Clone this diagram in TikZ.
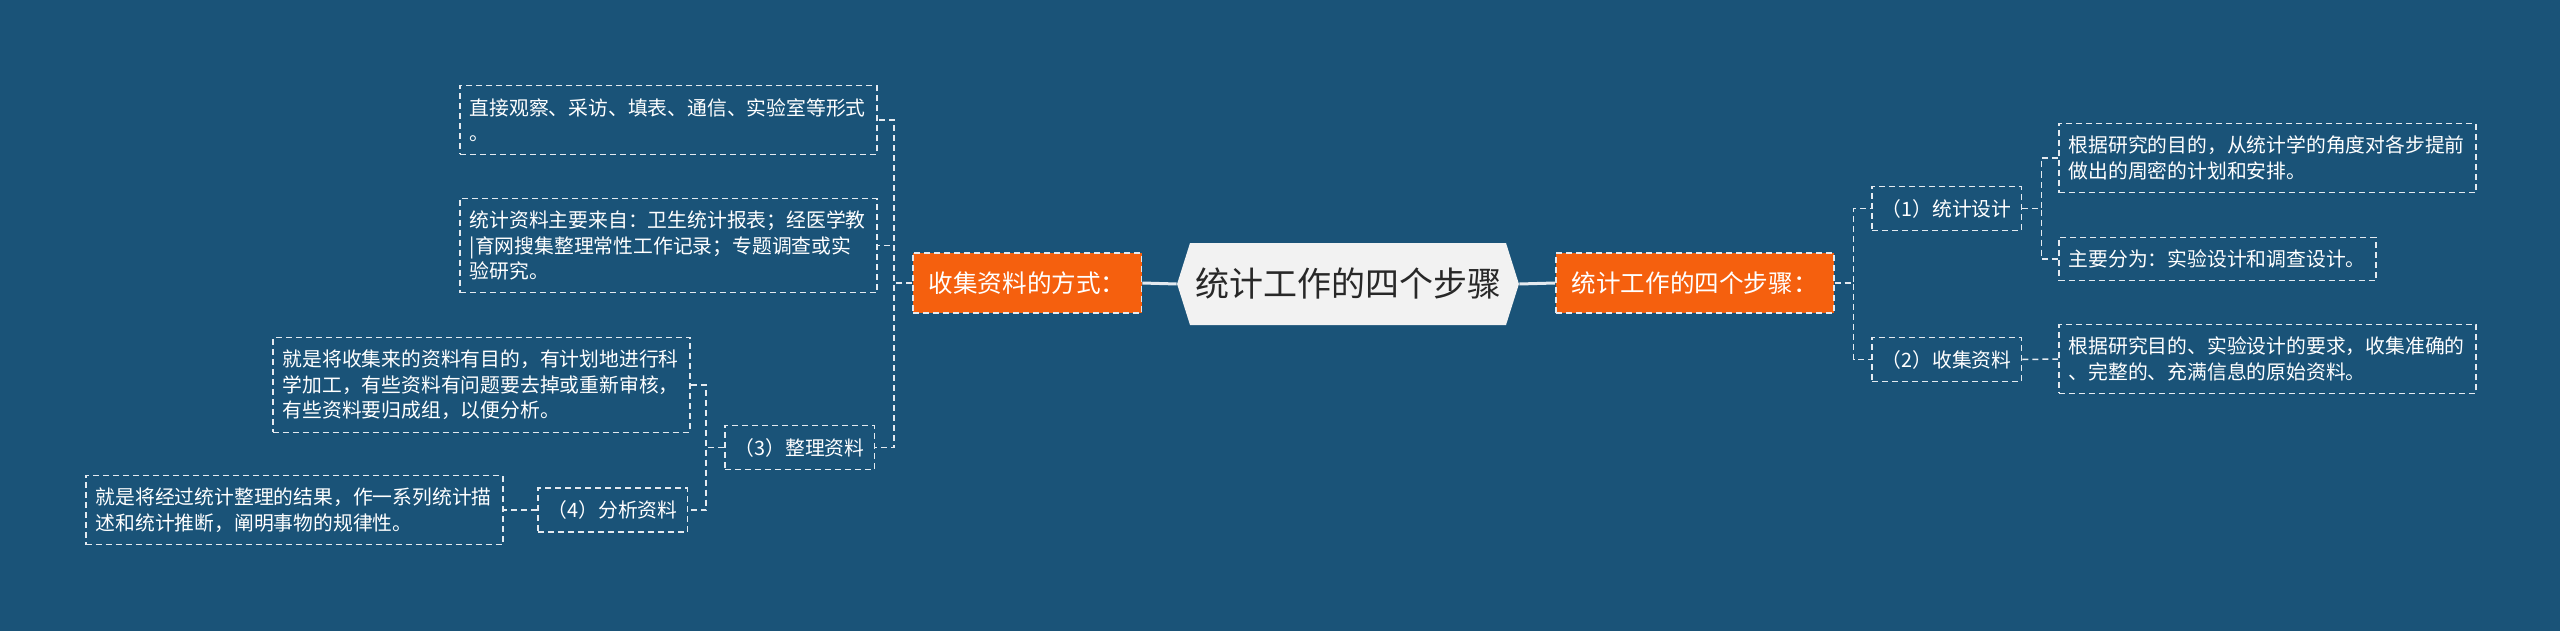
\documentclass[tikz,border=0pt]{standalone}
\usepackage{fontspec}
\usepackage{xcolor}
\usepackage{tikz}
\usetikzlibrary{calc}
\usetikzlibrary{shapes}
\usetikzlibrary{shapes.symbols}
\usetikzlibrary{positioning}
\newfontfamily\cjk{Noto Sans CJK SC}
\definecolor{bgblue}{RGB}{26,83,120}
\definecolor{topicorange}{RGB}{245,96,14}
\definecolor{rootfill}{RGB}{242,242,242}
\definecolor{roottext}{RGB}{40,40,40}
\definecolor{edgeline}{RGB}{228,234,240}
\tikzset{>=latex}
\tikzstyle{leaf} = [draw=edgeline, dash pattern=on 3pt off 2pt, line width=0.75pt, text=white, inner xsep=5pt, inner ysep=6.25pt, align=left, anchor=west, font=\cjk\fontsize{9.9}{12.75}\selectfont]
\tikzstyle{longleaf} = [leaf, text width=198.5pt]
\tikzstyle{topic} = [leaf, fill=topicorange, inner xsep=8pt, inner ysep=2pt, minimum height=30pt, font=\cjk\fontsize{12.3}{14}\selectfont]
\tikzstyle{link} = [draw=edgeline, dash pattern=on 3pt off 2pt, line width=0.75pt]
\tikzstyle{trunk} = [draw=edgeline, line width=1.5pt]

\begin{document}
\begin{tikzpicture}[x=0.5pt, y=-0.5pt]
\fill [bgblue] (0,0) rectangle (2560,631);
\node [signal, signal to=west and east, signal pointer angle=145, fill=rootfill, text=roottext, inner xsep=2.5pt, inner ysep=1pt, minimum height=41pt, font=\cjk\fontsize{17}{20}\selectfont] (root) at (1348,284) {统计工作的四个步骤};
\node [topic] (collect) at (912,283) {收集资料的方式：};
\node [topic] (steps) at (1555,283) {统计工作的四个步骤：};
%left side
\node [longleaf] (A1) at (459,120) {直接观察、采访、填表、通信、实验室等形式\\。};
\node [longleaf] (A2) at (459,245.5) {统计资料主要来自：卫生统计报表；经医学教\\|育网搜集整理常性工作记录；专题调查或实\\验研究。};
\node [leaf] (L3) at (724,447.5) {（3）整理资料};
\node [longleaf] (L3a) at (272,385) {就是将收集来的资料有目的，有计划地进行科\\学加工，有些资料有问题要去掉或重新审核，\\有些资料要归成组，以便分析。};
\node [leaf] (L4) at (537,510) {（4）分析资料};
\node [longleaf] (L4a) at (85,510) {就是将经过统计整理的结果，作一系列统计描\\述和统计推断，阐明事物的规律性。};
%right side
\node [leaf] (R1) at (1871,208.5) {（1）统计设计};
\node [leaf] (R2) at (1871,359.5) {（2）收集资料};
\node [longleaf] (R1a) at (2058,158) {根据研究的目的，从统计学的角度对各步提前\\做出的周密的计划和安排。};
\node [leaf] (R1b) at (2058,259) {主要分为：实验设计和调查设计。};
\node [longleaf] (R2a) at (2058,359) {根据研究目的、实验设计的要求，收集准确的\\、完整的、充满信息的原始资料。};
\draw [trunk] (root.west) -- (collect.east);
\draw [trunk] (root.east) -- (steps.west);
\draw [link] (collect.west) -- ++(-18,0) |- (A1.east);
\draw [link] (collect.west) -- ++(-18,0) |- (A2.east);
\draw [link] (collect.west) -- ++(-18,0) |- (L3.east);
\draw [link] (L3.west) -- ++(-18,0) |- (L3a.east);
\draw [link] (L3.west) -- ++(-18,0) |- (L4.east);
\draw [link] (L4.west) -- (L4a.east);
\draw [link] (steps.east) -- ++(19,0) |- (R1.west);
\draw [link] (steps.east) -- ++(19,0) |- (R2.west);
\draw [link] (R1.east) -- ++(19,0) |- (R1a.west);
\draw [link] (R1.east) -- ++(19,0) |- (R1b.west);
\draw [link] (R2.east) -- (R2a.west);
\end{tikzpicture}
\end{document}
